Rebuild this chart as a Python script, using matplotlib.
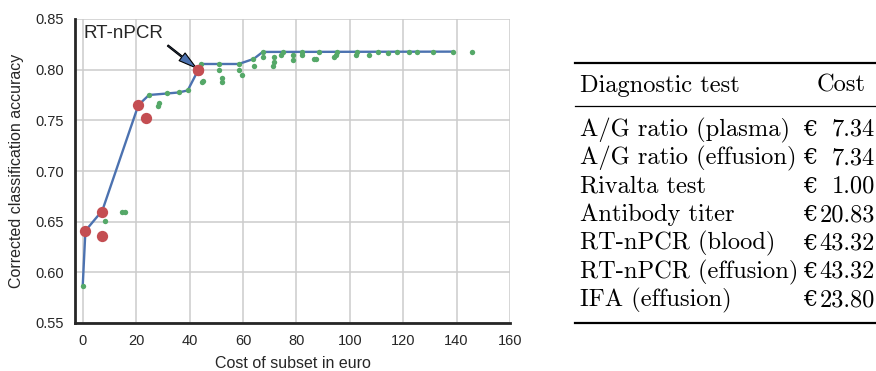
import matplotlib
matplotlib.use("Agg")
import matplotlib.pyplot as plt
from matplotlib.lines import Line2D

# pareto front (blue line)
front_cost = [0, 1.00, 7.34, 20.83, 24.8, 31.6, 35.9, 39.3, 43.32, 44.4, 58.4, 64.0, 67.4, 138.5]
front_acc = [0.587, 0.641, 0.661, 0.765, 0.775, 0.7765, 0.7775, 0.7795, 0.800, 0.8056, 0.8056, 0.8106, 0.8175, 0.8178]

# all evaluated subsets (green)
subset_cost = [0, 8.34, 14.68, 15.68, 24.8, 28.0, 28.5, 31.6, 35.9, 39.3,
               44.4, 45.0, 44.6, 51.0, 51.0, 52.1, 52.0, 58.4, 58.4, 59.5,
               63.9, 64.0, 67.4, 67.4, 71.8, 71.8, 71.4, 74.3, 74.9, 78.6, 78.6,
               82.1, 82.1, 88.3, 87.3, 86.7, 95.4, 94.8, 94.1, 102.8, 102.2,
               107.3, 110.6, 114.5, 117.8, 122.1, 125.0, 131.2, 138.5, 145.7]
subset_acc = [0.587, 0.651, 0.660, 0.660, 0.775, 0.764, 0.767, 0.7765, 0.7775, 0.7795,
              0.8056, 0.789, 0.788, 0.8056, 0.7997, 0.7915, 0.788, 0.8056, 0.7997, 0.7948,
              0.8106, 0.8037, 0.8173, 0.8122, 0.8128, 0.8079, 0.8037, 0.8145, 0.8172, 0.8145, 0.8100,
              0.8172, 0.8145, 0.8172, 0.8109, 0.8103, 0.8172, 0.8145, 0.8128, 0.8172, 0.8145,
              0.8145, 0.8170, 0.8162, 0.8175, 0.8175, 0.8175, 0.8178, 0.8178, 0.8178]

# single tests (red)
single_cost = [1.00, 7.34, 7.34, 20.83, 23.80, 43.32, 43.32]
single_acc = [0.641, 0.660, 0.636, 0.765, 0.752, 0.800, 0.800]

# table
tests = ["A/G ratio (plasma)", "A/G ratio (effusion)", "Rivalta test", "Antibody titer",
         "RT-nPCR (blood)", "RT-nPCR (effusion)", "IFA (effusion)"]
costs = ["7.34", "7.34", "1.00", "20.83", "43.32", "43.32", "23.80"]

blue = "#4c72b0"
green = "#55a868"
red = "#c44e52"
dark = "#262626"

plt.rcParams["font.family"] = ["Liberation Sans", "DejaVu Sans"]

W, H = 876, 371
fig = plt.figure(figsize=(W / 100, H / 100), dpi=100)
ax = fig.add_axes([75 / W, 1 - 323 / H, 435 / W, 304 / H])

ax.plot(front_cost, front_acc, color=blue, lw=1.7, zorder=2)
ax.scatter(subset_cost, subset_acc, s=15, color=green, lw=0, zorder=3)
ax.scatter(single_cost, single_acc, s=66, color=red, lw=0, zorder=4)

ax.annotate("RT-nPCR", xy=(43.32, 0.800), xytext=(0.1, 0.836),
            fontsize=13.5, color=dark, ha="left", va="center",
            arrowprops=dict(facecolor=blue, edgecolor="black", lw=0.8,
                            width=1.0, headwidth=7, headlength=13, shrink=0.06))

ax.set_xlim(-2.9, 160)
ax.set_ylim(0.55, 0.85)
ax.set_xticks(range(0, 161, 20))
ax.set_yticks([0.55, 0.60, 0.65, 0.70, 0.75, 0.80, 0.85])
ax.set_yticklabels(["%.2f" % v for v in ax.get_yticks()])
ax.grid(True, color="#cccccc", lw=1.1)
ax.set_axisbelow(True)
for s in ["top", "right"]:
    ax.spines[s].set_visible(False)
for s in ["left", "bottom"]:
    ax.spines[s].set_color(dark)
    ax.spines[s].set_linewidth(2.0)
ax.tick_params(length=0, pad=8, labelsize=10.5, colors=dark)
ax.set_xlabel("Cost of subset in euro", fontsize=11.5, color=dark, labelpad=6)
ax.set_ylabel("Corrected classification accuracy", fontsize=11.5, color=dark, labelpad=8)

# table drawn as figure text
serif = ["cmr10", "DejaVu Serif"]
fs = 17.6


def fx(px):
    return px / W


def fy(py):
    return 1 - py / H


def rule(py, lw):
    fig.add_artist(Line2D([fx(575), fx(876)], [fy(py), fy(py)], color="black", lw=lw,
                          transform=fig.transFigure))


rule(63, 1.6)
rule(106, 0.9)
rule(323, 1.6)

fig.text(fx(580), fy(92), "Diagnostic test", family=serif, fontsize=fs, va="baseline")
fig.text(fx(841), fy(92), "Cost", family=serif, fontsize=fs, va="baseline", ha="center")
for i, (t, c) in enumerate(zip(tests, costs)):
    yb = 136 + 28.4 * i
    fig.text(fx(580), fy(yb), t, family=serif, fontsize=fs, va="baseline")
    fig.text(fx(803), fy(yb), "\u20ac", family=serif, fontsize=fs - 1.5, va="baseline")
    fig.text(fx(875), fy(yb), c, family=serif, fontsize=fs, va="baseline", ha="right")

fig.savefig("out.png", dpi=100)
